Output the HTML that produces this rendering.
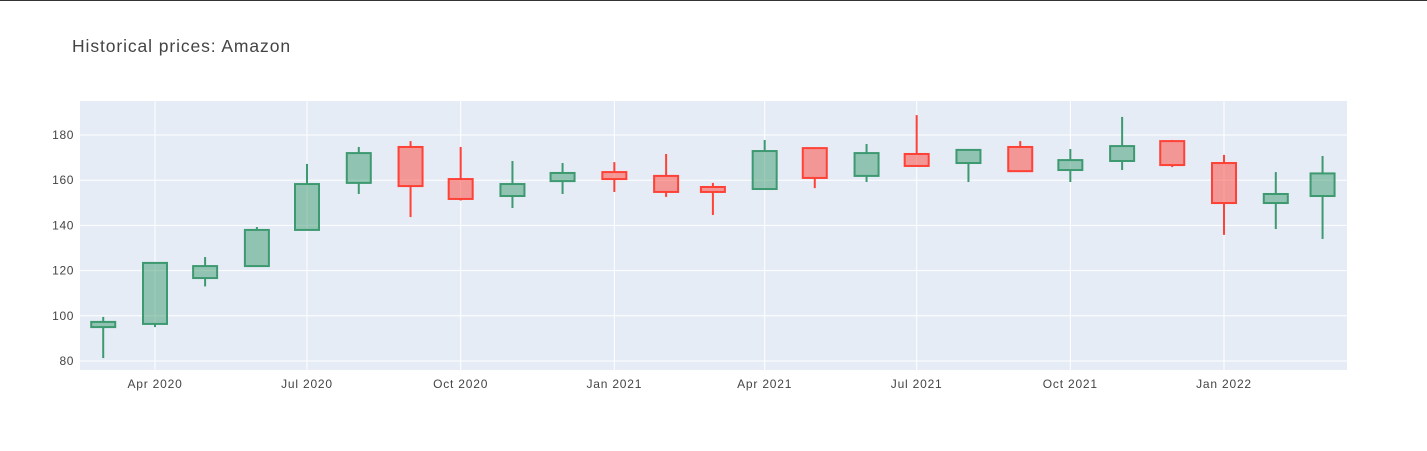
<!DOCTYPE html>
<html><head><meta charset="utf-8">
<style>
html,body{margin:0;padding:0;background:#fff;}
body{width:1427px;height:451px;overflow:hidden;border-top:1px solid #333;box-sizing:border-box;}
svg{display:block;font-family:"Liberation Sans",sans-serif;}
</style></head>
<body>
<svg id="chart" width="1427" height="450">
<text x="72" y="51" font-size="17.5" letter-spacing="0.9" fill="#444">Historical prices: Amazon</text>
<rect x="80" y="100" width="1267" height="269" fill="#e5ecf6"/>
<g id="grid"></g><g id="candles"></g><g id="axes"></g>
</svg>
<script>
const dates=["2020-03-01","2020-04-01","2020-05-01","2020-06-01","2020-07-01","2020-08-01","2020-09-01","2020-10-01","2020-11-01","2020-12-01","2021-01-01","2021-02-01","2021-03-01","2021-04-01","2021-05-01","2021-06-01","2021-07-01","2021-08-01","2021-09-01","2021-10-01","2021-11-01","2021-12-01","2022-01-01","2022-02-01","2022-03-01"];
const opens=[95.0,96.4,116.7,122,138,158.8,174.7,160.5,153,159.6,163.6,161.9,157,156.1,174.2,161.9,171.6,167.6,174.7,164.5,168.5,177.3,167.6,149.9,153];
const highs=[99.5,123.8,126,139.3,167.2,174.7,177.3,174.7,168.5,167.6,168,171.6,158.8,177.8,174.5,176,188.8,173.8,177.3,173.8,188,177.8,171.2,163.6,170.7];
const lows=[81.3,95,113,122,138,153.9,143.7,151,147.7,153.9,154.8,152.6,144.6,156,156.5,159.2,166,159.2,164,159.2,164.5,165.8,135.8,138.4,134];
const closes=[97.3,123.4,122,138,158.3,172,157.4,151.7,158.3,163.2,160.5,154.8,154.8,172.9,161,172,166.3,173.4,164,168.9,175.1,166.7,149.9,153.9,163];
const yTicks=[80,100,120,140,160,180];
const xTickDates=["2020-04-01","2020-07-01","2020-10-01","2021-01-01","2021-04-01","2021-07-01","2021-10-01","2022-01-01"];
const xTickLabels=["Apr 2020","Jul 2020","Oct 2020","Jan 2021","Apr 2021","Jul 2021","Oct 2021","Jan 2022"];

const NS="http://www.w3.org/2000/svg";
const ref=Date.UTC(2020,3,1);
function xs(d){const t=Date.parse(d+"T00:00:00Z");return 155+(t-ref)/86400000*152/91;}
function ys(v){return 360-(v-80)*2.26;}
function mk(tag,attrs,parent){const e=document.createElementNS(NS,tag);for(const k in attrs)e.setAttribute(k,attrs[k]);parent.appendChild(e);return e;}
const grid=document.getElementById('grid'),axes=document.getElementById('axes'),cg=document.getElementById('candles');
yTicks.forEach(v=>{
 const l=mk('line',{x1:80,x2:1347,y1:ys(v),y2:ys(v),stroke:'#fff','stroke-width':1},grid);
 
 
 const t=mk('text',{x:74,y:ys(v)+4,'text-anchor':'end','font-size':12,'letter-spacing':0.6,fill:'#444'},axes);
 t.textContent=v;
 
 
});
xTickDates.forEach((d,i)=>{
 const x=xs(d);
 const l=mk('line',{x1:x,x2:x,y1:100,y2:369,stroke:'#fff','stroke-width':1},grid);
 
 
 const t=mk('text',{x:x,y:387,'text-anchor':'middle','font-size':12,'letter-spacing':0.8,fill:'#444'},axes);
 t.textContent=xTickLabels[i];
 
 
});
dates.forEach((d,i)=>{
 const up=closes[i]>=opens[i];
 const col=up?'#3D9970':'#FF4136',fill=up?'rgba(61,153,112,0.5)':'rgba(255,65,54,0.5)';
 const x=xs(d),w=24;
 const g=mk('g',{},cg);
 
 
 const top=ys(Math.max(opens[i],closes[i])),bot=ys(Math.min(opens[i],closes[i]));
 mk('line',{x1:x,x2:x,y1:ys(highs[i]),y2:top,stroke:col,'stroke-width':2},g);
 mk('line',{x1:x,x2:x,y1:bot,y2:ys(lows[i]),stroke:col,'stroke-width':2},g);
 mk('rect',{x:x-w/2,y:top,width:w,height:Math.max(bot-top,1),fill:fill,stroke:col,'stroke-width':2},g);
});
</script>
</body></html>
